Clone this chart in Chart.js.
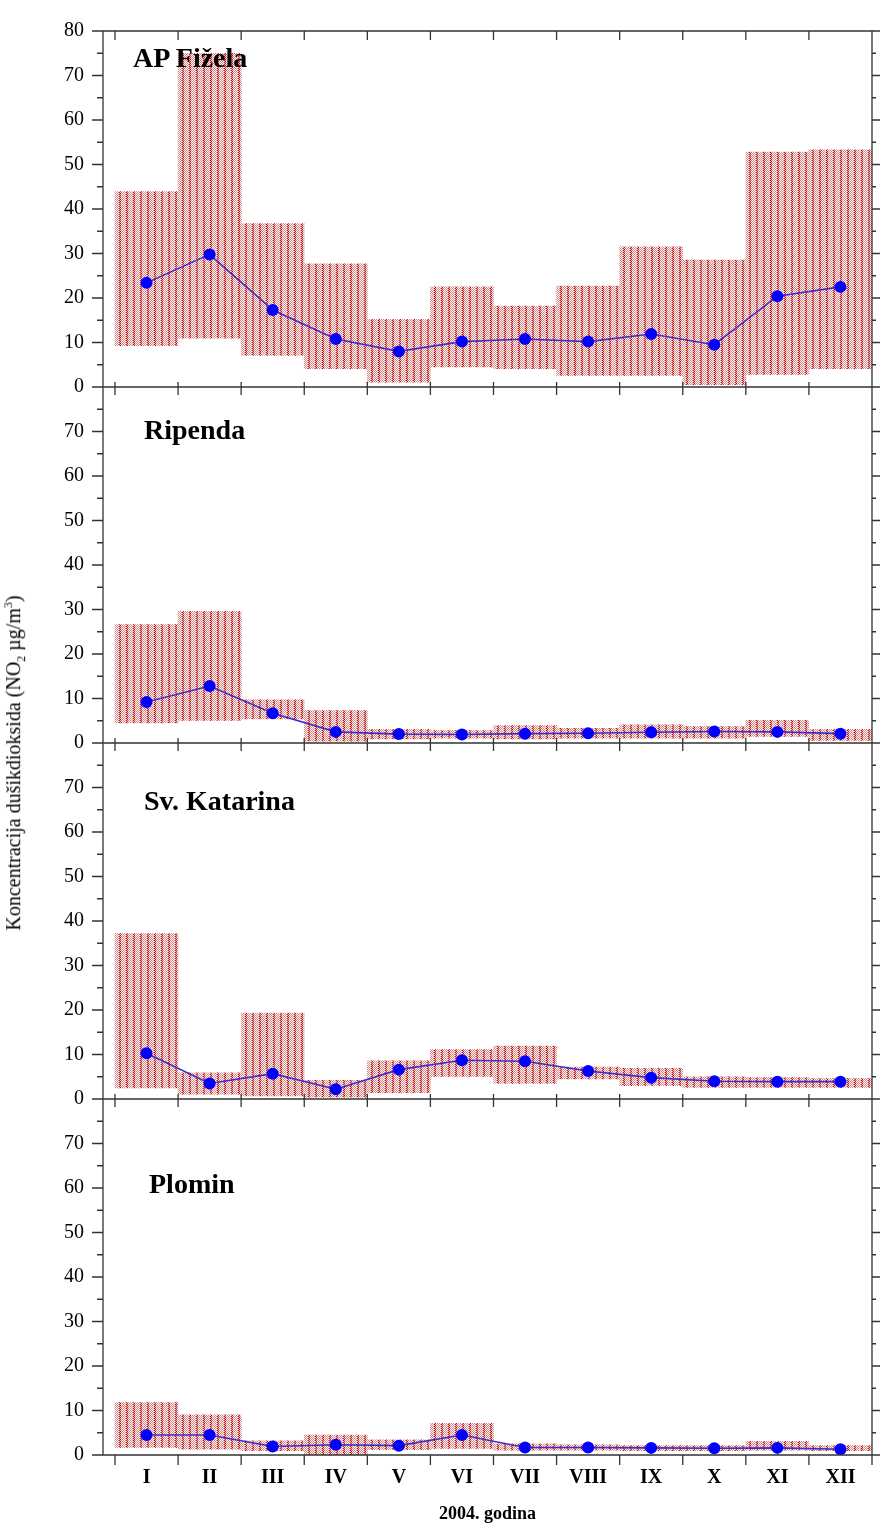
<!DOCTYPE html>
<html>
<head>
<meta charset="utf-8">
<script src="https://cdn.jsdelivr.net/npm/chart.js@4/dist/chart.umd.min.js"></script>
<style>
body{margin:0;background:#fff}
#wrap{position:relative;width:882px;height:1528px}
.station{position:absolute;font:bold 28px 'Liberation Serif','Times New Roman',serif;line-height:1;color:#000;white-space:nowrap}
#ytitle{position:absolute;left:15px;top:763px;transform:translate(-50%,-50%) rotate(-90deg);font:20px 'Liberation Serif','Times New Roman',serif;white-space:nowrap;color:#000}
#ytitle sub,#ytitle sup{font-size:12px}
</style>
</head>
<body>
<div id="wrap">
<canvas id="chart" width="882" height="1528"></canvas>
<div class="station" style="left:133px;top:44px">AP Fižela</div>
<div class="station" style="left:144px;top:416px">Ripenda</div>
<div class="station" style="left:144px;top:787px">Sv. Katarina</div>
<div class="station" style="left:149px;top:1170px">Plomin</div>
<div id="ytitle">Koncentracija dušikdioksida (NO<sub>2</sub> µg/m<sup>3</sup>)</div>
</div>
<script>
const SERIF = "'Liberation Serif','Times New Roman',serif"

const MONTHS = ['I','II','III','IV','V','VI','VII','VIII','IX','X','XI','XII']

// monthly min / max / mean, NO2 ug/m3
const FIZELA_MIN  = [9.3, 11.0, 7.1, 4.1, 1.1, 4.5, 4.1, 2.6, 2.6, 0.5, 2.8, 4.1]
const FIZELA_MAX  = [43.9, 75.0, 36.7, 27.7, 15.2, 22.5, 18.2, 22.7, 31.5, 28.5, 52.8, 53.3]
const FIZELA_MEAN = [23.4, 29.8, 17.3, 10.8, 8.0, 10.2, 10.8, 10.2, 11.9, 9.5, 20.4, 22.5]

const RIPENDA_MIN  = [4.5, 5.1, 5.4, 0.4, 0.9, 1.1, 0.9, 1.1, 1.1, 1.1, 1.5, 0.6]
const RIPENDA_MAX  = [26.6, 29.6, 9.7, 7.3, 3.1, 2.8, 3.9, 3.3, 4.1, 3.7, 5.1, 3.1]
const RIPENDA_MEAN = [9.2, 12.8, 6.7, 2.5, 2.0, 1.9, 2.1, 2.2, 2.4, 2.6, 2.5, 2.1]

const KATARINA_MIN  = [2.5, 1.1, 0.7, 0.4, 1.4, 5.1, 3.5, 4.5, 3.0, 2.6, 2.6, 2.6]
const KATARINA_MAX  = [37.2, 5.9, 19.3, 4.2, 8.6, 11.1, 11.9, 7.2, 6.9, 5.0, 4.8, 4.6]
const KATARINA_MEAN = [10.3, 3.5, 5.7, 2.2, 6.6, 8.7, 8.5, 6.3, 4.8, 4.0, 3.9, 3.9]

const PLOMIN_MIN  = [1.7, 1.3, 1.0, 0.0, 1.2, 1.5, 1.1, 1.1, 1.0, 1.0, 1.1, 1.0]
const PLOMIN_MAX  = [11.8, 9.0, 3.2, 4.5, 3.4, 7.1, 2.5, 2.3, 2.1, 2.1, 3.1, 2.1]
const PLOMIN_MEAN = [4.5, 4.5, 1.9, 2.3, 2.1, 4.5, 1.7, 1.7, 1.6, 1.5, 1.6, 1.3]

// later axis ids end up higher in the stack
const PANEL_IDS = ['yPlomin','yKatarina','yRipenda','yFizela']


/* red dotted fill like the original print */
function makePattern(){
let c = document.createElement('canvas')
c.width = 7; c.height = 4
let g = c.getContext('2d')
g.fillStyle = '#fff'
g.fillRect(0,0,7,4)
for(let x=0;x<7;x++){
for(let y=0;y<4;y++){
if(x<2 && (x+y)%2===0){
g.fillStyle = 'rgb(185,30,30)'
g.fillRect(x,y,1,1)
}else if(x>=2 && (x+y)%2===0){
g.fillStyle = 'rgba(215,90,90,0.75)'
g.fillRect(x,y,1,1)
}else if(x<2){
g.fillStyle = 'rgb(235,175,175)'
g.fillRect(x,y,1,1)
}
}
}
return g.createPattern(c,'repeat')
}
const FILL = makePattern()


function rangeSet(axis,mins,maxs){
return {
type:'bar',
yAxisID:axis,
data:mins.map((v,i)=>({x:i+0.5,y:[v,maxs[i]]})),
backgroundColor:FILL,
borderWidth:0,
barPercentage:1,
categoryPercentage:1,
grouped:false,
order:2
}
}

function meanSet(axis,means){
return {
type:'line',
yAxisID:axis,
data:means.map((v,i)=>({x:i+0.5,y:v})),
borderColor:'#3a30c8',
borderWidth:1.6,
pointRadius:6,
pointBackgroundColor:'#0000ff',
pointBorderWidth:0,
tension:0,
order:1
}
}

function yAxis(top){
return {
type:'linear',
position:'left',
stack:'panels',
stackWeight:1,
min:0,
max:80,
grid:{display:false,drawTicks:false},
border:{display:false},
ticks:{
stepSize:10,
autoSkip:false,
padding:19,
color:'#000',
font:{family:SERIF,size:20},
callback:(v)=> (v===80 && !top) ? '' : v
},
afterFit:(s)=>{ s.width = 103 }
}
}


/* frame, panel separators and tick marks */
const frame = {
id:'frame',
afterDatasetsDraw(chart){
let ctx = chart.ctx
let a = chart.chartArea
let xs = chart.scales.x
ctx.save()
ctx.strokeStyle = '#333'
ctx.lineWidth = 1.3
ctx.beginPath()
ctx.rect(a.left,a.top,a.right-a.left,a.bottom-a.top)

PANEL_IDS.forEach(id=>{
let s = chart.scales[id]
let y0 = s.getPixelForValue(0)
ctx.moveTo(a.left,y0); ctx.lineTo(a.right,y0)
for(let v=0;v<=80;v+=5){
let y = s.getPixelForValue(v)
let big = v%10===0
ctx.moveTo(a.left-(big?11:6),y); ctx.lineTo(a.left,y)
ctx.moveTo(a.right,y); ctx.lineTo(a.right+(big?8:4),y)
}
})

for(let k=0;k<=12;k++){
let x = xs.getPixelForValue(k)
ctx.moveTo(x,a.top); ctx.lineTo(x,a.top+9)
PANEL_IDS.forEach(id=>{
let y0 = chart.scales[id].getPixelForValue(0)
if(id==='yPlomin'){
ctx.moveTo(x,y0); ctx.lineTo(x,y0+10)
}else{
ctx.moveTo(x,y0-5); ctx.lineTo(x,y0+8)
}
})
}
ctx.stroke()
ctx.restore()
}
}


new Chart(document.getElementById('chart'),{

type:'bar',

data:{
datasets:[
rangeSet('yPlomin',PLOMIN_MIN,PLOMIN_MAX),
meanSet('yPlomin',PLOMIN_MEAN),
rangeSet('yKatarina',KATARINA_MIN,KATARINA_MAX),
meanSet('yKatarina',KATARINA_MEAN),
rangeSet('yRipenda',RIPENDA_MIN,RIPENDA_MAX),
meanSet('yRipenda',RIPENDA_MEAN),
rangeSet('yFizela',FIZELA_MIN,FIZELA_MAX),
meanSet('yFizela',FIZELA_MEAN)
]
},

options:{
responsive:false,
animation:false,
devicePixelRatio:1,
layout:{padding:{top:19.5,right:10,left:0,bottom:0}},
plugins:{
legend:{display:false},
tooltip:{enabled:false}
},
scales:{
x:{
type:'linear',
offset:false,
min:-0.19,
max:12,
grid:{display:false,drawTicks:false,offset:false},
border:{display:false},
afterBuildTicks:(s)=>{ s.ticks = MONTHS.map((m,i)=>({value:i+0.5})) },
ticks:{
autoSkip:false,
maxRotation:0,
padding:11,
color:'#000',
font:{family:SERIF,size:20,weight:'bold'},
callback:(v,i)=>MONTHS[i]
},
title:{
display:true,
text:'2004. godina',
color:'#000',
font:{family:SERIF,size:18,weight:'bold'},
padding:{top:0,bottom:3}
},
afterFit:(s)=>{ s.height = 73 }
},
yPlomin:yAxis(false),
yKatarina:yAxis(false),
yRipenda:yAxis(false),
yFizela:yAxis(true)
}
},

plugins:[frame]

})
</script>
</body>
</html>
